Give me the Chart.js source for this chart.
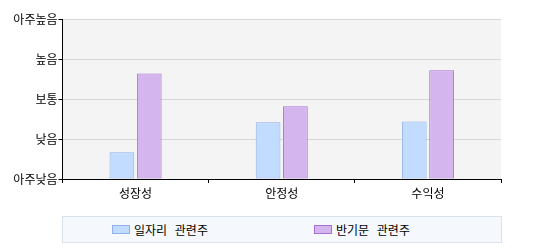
<!DOCTYPE html>
<html><head><meta charset="utf-8">
<script src="https://cdn.jsdelivr.net/npm/chart.js@4"></script>
<style>
html,body{margin:0;padding:0;background:#fff;}
#wrap{position:relative;width:544px;height:250px;}
#legend{position:absolute;left:62px;top:216px;width:438px;height:25px;background:#f5f9fe;border:1px solid #d8e3ec;font:12px "Noto Sans CJK KR",sans-serif;color:#000;word-spacing:5px;}
.item{position:absolute;top:0;height:25px;display:flex;align-items:center;white-space:nowrap;}
.box{width:16px;height:7px;border:1px solid;margin-right:4px;}
</style></head>
<body><div id="wrap"><canvas id="c" width="544" height="250"></canvas><div id="legend"></div></div>
<script>
const categories = ['성장성', '안정성', '수익성'];
const levelLabels = ['아주낮음', '낮음', '보통', '높음', '아주높음'];
const seriesNames = ['일자리 관련주', '반기문 관련주'];
const jobsValues = [0.67, 1.42, 1.44];
const banValues = [2.64, 1.82, 2.72];

const fills = ['#c2dcff', '#d5b5ee'];
const borders = ['#8fb0ea', '#a86fd4'];

const bgPlugin = {
  id: 'bg',
  beforeDraw(chart) {
    const a = chart.chartArea, ctx = chart.ctx;
    ctx.save();
    ctx.fillStyle = '#f4f4f4';
    ctx.fillRect(a.left, a.top, a.right - a.left, a.bottom - a.top);
    ctx.restore();
  }
};

const font = {family: '"Noto Sans CJK KR", sans-serif', size: 12};

new Chart(document.getElementById('c'), {
  type: 'bar',
  data: {
    labels: categories,
    datasets: [
      {label: seriesNames[0], data: jobsValues, backgroundColor: fills[0], borderColor: borders[0], borderWidth: 1, borderSkipped: false},
      {label: seriesNames[1], data: banValues, backgroundColor: fills[1], borderColor: borders[1], borderWidth: 1, borderSkipped: false}
    ]
  },
  options: {
    responsive: false,
    animation: false,
    devicePixelRatio: 1,
    layout: {padding: {left: 0, right: 43, top: 19, bottom: 50}},
    plugins: {legend: {display: false}, tooltip: {enabled: false}},
    datasets: {bar: {categoryPercentage: 0.374, barPercentage: 0.905}},
    scales: {
      x: {
        offset: true,
        grid: {
          offset: true,
          color: (c) => c.index === categories.length ? '#c8c8c8' : 'rgba(0,0,0,0)',
          tickColor: '#000',
          tickLength: 4
        },
        border: {color: '#000', width: 1},
        ticks: {color: '#000', font: font, padding: 3},
        afterFit(s) { s.height = 21; }
      },
      y: {
        min: 0, max: 4,
        ticks: {stepSize: 1, color: '#000', font: font, padding: 1,
          callback: (v) => levelLabels[v] ?? ''},
        grid: {color: '#d6d6d6', tickColor: '#000', tickLength: 4},
        border: {color: '#000', width: 1},
        afterFit(s) { s.width = 62.5; }
      }
    }
  },
  plugins: [bgPlugin]
});

const lg = document.getElementById('legend');
const offsets = [49, 251];
seriesNames.forEach((n, i) => {
  const it = document.createElement('div');
  it.className = 'item';
  it.style.left = offsets[i] + 'px';
  const b = document.createElement('span');
  b.className = 'box';
  b.style.background = fills[i];
  b.style.borderColor = borders[i];
  const t = document.createElement('span');
  t.textContent = n;
  it.appendChild(b); it.appendChild(t);
  lg.appendChild(it);
});
</script></body></html>
